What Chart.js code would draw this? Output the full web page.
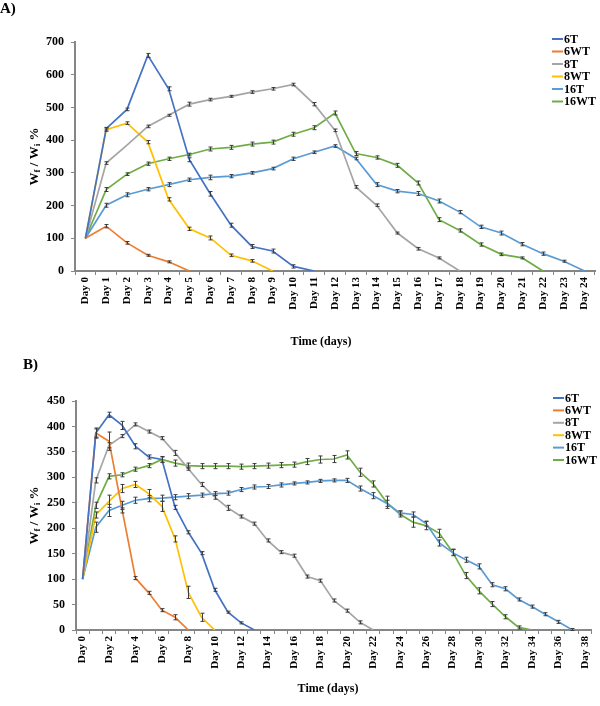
<!DOCTYPE html>
<html>
<head>
<meta charset="utf-8">
<script src="https://cdn.jsdelivr.net/npm/chart.js@4"></script>
<style>
  html, body { margin: 0; padding: 0; background: #fff; }
  canvas { position: absolute; left: 0; }
  #chartA { top: 0; }
  #chartB { top: 355px; }
</style>
</head>
<body>
<canvas id="chartA" width="600" height="355"></canvas>
<canvas id="chartB" width="600" height="351"></canvas>
<script>
// --- Data: panel A ---
const daysA = ["Day 0", "Day 1", "Day 2", "Day 3", "Day 4", "Day 5", "Day 6", "Day 7", "Day 8",
  "Day 9", "Day 10", "Day 11", "Day 12", "Day 13", "Day 14", "Day 15", "Day 16", "Day 17",
  "Day 18", "Day 19", "Day 20", "Day 21", "Day 22", "Day 23", "Day 24"];

const a6T = [100, 435, 494, 659, 557, 340, 236, 140, 75, 61, 14, 0];
const a6WT = [100, 137, 86, 48, 28, 0];
const a8T = [100, 330, 385, 442, 476, 510, 524, 534, 547, 557, 570, 510, 430, 257, 201, 116, 68, 40, 0];
const a8WT = [100, 432, 452, 394, 219, 129, 101, 48, 31, 0];
const a16T = [100, 201, 233, 250, 264, 279, 286, 290, 300, 313, 343, 363, 382, 344, 264, 244, 237, 214, 180, 135, 116, 82, 53, 30, 0];
const a16WT = [100, 249, 296, 328, 343, 356, 373, 378, 388, 394, 418, 438, 483, 359, 347, 323, 269, 157, 124, 81, 51, 40, 0];

// error bars (± value)
const a6T_err = [0, 4, 4, 6, 6, 6, 7, 6, 6, 6, 5, 0];
const a6WT_err = [0, 5, 4, 3, 3, 0];
const a8T_err = [0, 4, 0, 4, 3, 6, 4, 3, 4, 4, 4, 5, 4, 4, 4, 3, 4, 3, 0];
const a8WT_err = [0, 5, 4, 5, 5, 5, 6, 4, 4, 0];
const a16T_err = [0, 6, 6, 5, 6, 5, 7, 5, 4, 4, 5, 4, 4, 4, 6, 5, 6, 6, 5, 5, 6, 5, 5, 3, 0];
const a16WT_err = [0, 6, 4, 5, 5, 4, 6, 6, 6, 6, 6, 6, 6, 6, 5, 6, 6, 6, 5, 5, 4, 3, 0];

const yTicksA = [0, 100, 200, 300, 400, 500, 600, 700];

// --- Data: panel B ---
const daysB = ["Day 0", "Day 1", "Day 2", "Day 3", "Day 4", "Day 5", "Day 6", "Day 7", "Day 8",
  "Day 9", "Day 10", "Day 11", "Day 12", "Day 13", "Day 14", "Day 15", "Day 16", "Day 17",
  "Day 18", "Day 19", "Day 20", "Day 21", "Day 22", "Day 23", "Day 24", "Day 25", "Day 26",
  "Day 27", "Day 28", "Day 29", "Day 30", "Day 31", "Day 32", "Day 33", "Day 34", "Day 35",
  "Day 36", "Day 37", "Day 38"];

const b6T = [100, 387, 423, 402, 361, 340, 335, 241, 192, 151, 79, 35, 14, 0];
const b6WT = [100, 387, 371, 235, 102, 73, 39, 25, 0];
const b8T = [100, 294, 363, 381, 404, 390, 377, 348, 317, 286, 261, 240, 223, 209, 176, 153, 146, 105, 97, 58, 38, 15, 0];
const b8WT = [100, 226, 253, 278, 286, 268, 243, 179, 74, 25, 0];
const b16T = [100, 202, 235, 245, 255, 258, 259, 261, 263, 265, 268, 269, 276, 281, 282, 285, 288, 290, 293, 294,
  294, 278, 264, 249, 230, 227, 209, 171, 152, 138, 125, 89, 81, 60, 46, 31, 16, 1, 0];
const b16WT = [100, 245, 302, 305, 316, 323, 335, 328, 323, 322, 322, 322, 321, 322, 323, 324, 325, 331, 335, 336,
  344, 310, 287, 251, 228, 212, 205, 190, 153, 107, 77, 51, 26, 5, 0];

const b6T_err = [0, 8, 5, 8, 5, 4, 6, 4, 3, 3, 3, 2, 2, 0];
const b6WT_err = [0, 10, 18, 5, 3, 3, 3, 5, 0];
const b8T_err = [0, 5, 5, 3, 3, 3, 3, 5, 3, 4, 4, 5, 3, 3, 3, 3, 3, 3, 3, 3, 3, 3, 0];
const b8WT_err = [0, 6, 12, 8, 6, 8, 10, 6, 12, 8, 0];
const b16T_err = [0, 10, 12, 8, 6, 6, 6, 5, 5, 4, 4, 4, 4, 4, 4, 4, 3, 3, 3, 3, 4, 5, 6, 6, 4, 5, 5, 6, 6, 5, 5, 4, 4, 3, 3, 3, 3, 2, 0];
const b16WT_err = [0, 6, 5, 4, 4, 4, 5, 6, 5, 5, 5, 5, 5, 5, 5, 5, 5, 6, 7, 7, 8, 8, 6, 12, 6, 10, 8, 8, 6, 6, 6, 5, 4, 3, 0];

const yTicksB = [0, 50, 100, 150, 200, 250, 300, 350, 400, 450];

const seriesNames = ["6T", "6WT", "8T", "8WT", "16T", "16WT"];
const seriesColors = ["#4472C4", "#ED7D31", "#A5A5A5", "#FFC000", "#5B9BD5", "#70AD47"];

const serif = '"Liberation Serif", "Times New Roman", serif';
const axisGray = "#868686";

// error bars drawn from each dataset's "errors" array
const errorBarPlugin = {
  id: "errorBars",
  afterDatasetsDraw(chart) {
    const ctx = chart.ctx;
    const yScale = chart.scales.y;
    ctx.save();
    ctx.strokeStyle = "#3c3c3c";
    ctx.lineWidth = 1;
    chart.data.datasets.forEach((ds, di) => {
      const meta = chart.getDatasetMeta(di);
      (ds.errors || []).forEach((e, i) => {
        const pt = meta.data[i];
        if (!pt || !e || ds.data[i] == null) return;
        const x = Math.round(pt.x) + 0.5;
        const y1 = yScale.getPixelForValue(ds.data[i] + e);
        const y2 = yScale.getPixelForValue(ds.data[i] - e);
        ctx.beginPath();
        ctx.moveTo(x, y1); ctx.lineTo(x, y2);
        ctx.moveTo(x - 2, y1); ctx.lineTo(x + 2, y1);
        ctx.moveTo(x - 2, y2); ctx.lineTo(x + 2, y2);
        ctx.stroke();
      });
    });
    ctx.restore();
  }
};

// panel letter, axis titles, legend
const textPlugin = {
  id: "panelText",
  afterDraw(chart, args, opts) {
    const ctx = chart.ctx;
    const area = chart.chartArea;
    ctx.save();
    ctx.fillStyle = "#000";
    ctx.textBaseline = "middle";

    ctx.font = "bold 15px " + serif;
    ctx.textAlign = "left";
    ctx.fillText(opts.panel, opts.panelX, opts.panelY);

    ctx.font = "bold 12px " + serif;
    ctx.textAlign = "center";
    ctx.fillText("Time (days)", opts.xTitleX, opts.xTitleY);

    // y title with subscripts: Wf / Wi %
    const parts = [["W", 13, 0], ["f", 9, 3], [" / W", 13, 0], ["i", 9, 3], [" %", 13, 0]];
    let total = 0;
    parts.forEach((p) => {
      ctx.font = "bold " + p[1] + "px " + serif;
      total += ctx.measureText(p[0]).width;
    });
    ctx.translate(opts.yTitleX, (area.top + area.bottom) / 2);
    ctx.rotate(-Math.PI / 2);
    ctx.textAlign = "left";
    let x = -total / 2;
    parts.forEach((p) => {
      ctx.font = "bold " + p[1] + "px " + serif;
      ctx.fillText(p[0], x, p[2]);
      x += ctx.measureText(p[0]).width;
    });
    ctx.setTransform(1, 0, 0, 1, 0, 0);

    // legend
    ctx.font = "bold 12px " + serif;
    ctx.textAlign = "left";
    chart.data.datasets.forEach((ds, i) => {
      const y = opts.legendY + i * opts.legendStep;
      ctx.strokeStyle = ds.borderColor;
      ctx.lineWidth = 2;
      ctx.beginPath();
      ctx.moveTo(opts.legendX, y);
      ctx.lineTo(opts.legendX + 11, y);
      ctx.stroke();
      ctx.fillText(ds.label, opts.legendX + 12, y + 0.5);
    });
    ctx.restore();
  }
};

function makeChart(id, labels, values, errors, yTicks, every, layout, text) {
  const datasets = values.map((v, i) => ({
    label: seriesNames[i],
    data: v,
    errors: errors[i],
    borderColor: seriesColors[i],
    backgroundColor: seriesColors[i],
    borderWidth: 1.7,
    pointRadius: 0,
    tension: 0,
    spanGaps: false,
  }));

  return new Chart(document.getElementById(id), {
    type: "line",
    data: { labels, datasets },
    options: {
      responsive: false,
      animation: false,
      devicePixelRatio: 1,
      layout: { padding: { top: layout.top, right: layout.right, left: 0, bottom: 0 } },
      plugins: {
        legend: { display: false },
        tooltip: { enabled: false },
        panelText: text,
      },
      scales: {
        x: {
          type: "category",
          offset: true,
          afterFit: (s) => { s.height = layout.xHeight; },
          grid: {
            offset: true,
            drawOnChartArea: false,
            drawTicks: true,
            tickLength: 4,
            color: axisGray,
            lineWidth: 1,
          },
          border: { display: true, color: axisGray, width: 2 },
          ticks: {
            autoSkip: false,
            minRotation: 90,
            maxRotation: 90,
            padding: 2,
            color: "#000",
            font: { family: serif, size: 11, weight: "bold" },
            callback: function (val, idx) {
              return idx % every === 0 ? this.getLabelForValue(val) : "";
            },
          },
        },
        y: {
          min: yTicks[0],
          max: yTicks[yTicks.length - 1],
          afterFit: (s) => { s.width = layout.left; },
          afterBuildTicks: (s) => { s.ticks = yTicks.map((v) => ({ value: v })); },
          grid: {
            drawOnChartArea: false,
            drawTicks: true,
            tickLength: 4,
            color: axisGray,
            lineWidth: 1,
          },
          border: { display: true, color: axisGray, width: 2 },
          ticks: {
            padding: 7,
            color: "#000",
            font: { family: serif, size: 12, weight: "bold" },
          },
        },
      },
    },
    plugins: [errorBarPlugin, textPlugin],
  });
}

makeChart(
  "chartA",
  daysA,
  [a6T, a6WT, a8T, a8WT, a16T, a16WT],
  [a6T_err, a6WT_err, a8T_err, a8WT_err, a16T_err, a16WT_err],
  yTicksA,
  1,
  { top: 42, right: 5, left: 75, xHeight: 84 },
  { panel: "A)", panelX: 0, panelY: 9, xTitleX: 321, xTitleY: 342, yTitleX: 35,
    legendX: 552, legendY: 39, legendStep: 12.5 }
);

makeChart(
  "chartB",
  daysB,
  [b6T, b6WT, b8T, b8WT, b16T, b16WT],
  [b6T_err, b6WT_err, b8T_err, b8WT_err, b16T_err, b16WT_err],
  yTicksB,
  2,
  { top: 46, right: 5, left: 76, xHeight: 76 },
  { panel: "B)", panelX: 23, panelY: 10, xTitleX: 328, xTitleY: 334, yTitleX: 35,
    legendX: 553, legendY: 43, legendStep: 12.4 }
);
</script>
</body>
</html>
